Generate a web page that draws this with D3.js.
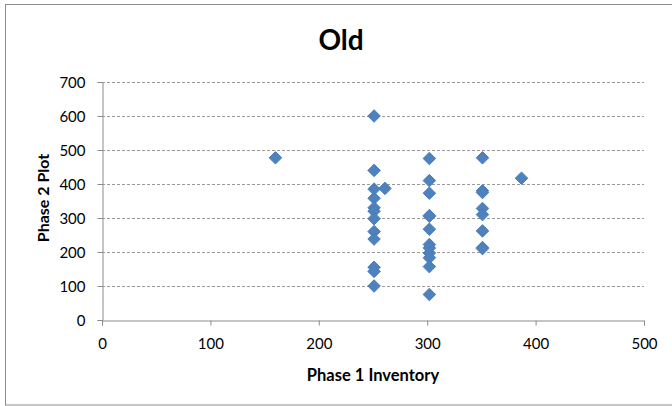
<!DOCTYPE html>
<html>
<head>
<meta charset="utf-8">
<title>Old</title>
<script src="https://cdn.jsdelivr.net/npm/d3@7"></script>
<style>
    body { margin: 0; background: #fff; }
    text { font-family: Lato, "Open Sans", sans-serif; fill: #000; }
</style>
</head>
<body>
<div id="chart"></div>
<script>
    const width = 672, height = 406;

    // Phase 1 Inventory (x) and Phase 2 Plot (y)
    const inventory = [
        160,
        251, 251, 251, 251, 251, 251, 251, 251, 251, 251, 251, 251,
        261,
        302, 302, 302, 302, 302, 302, 302, 302, 302, 302, 302, 302,
        351, 351, 351, 351, 351, 351, 351, 351,
        387
    ];
    const plot = [
        477,
        600, 440, 385, 358, 330, 320, 298, 260, 238, 155, 143, 100,
        387,
        475, 410, 373, 307, 305, 267, 222, 212, 197, 183, 157, 75,
        477, 380, 375, 328, 310, 262, 213, 210,
        417
    ];
    const xTicks = [0, 100, 200, 300, 400, 500];
    const yTicks = [0, 100, 200, 300, 400, 500, 600, 700];

    const points = inventory.map((x, i) => ({ x: x, y: plot[i] }));

    const x = d3.scaleLinear().domain([0, 500]).range([102, 644]);
    const y = d3.scaleLinear().domain([0, 700]).range([320, 82]);

    const svg = d3.select("#chart")
        .append("svg")
        .attr("width", width)
        .attr("height", height);

    // outer chart border
    svg.append("rect")
        .attr("x", 5.5)
        .attr("y", 4.5)
        .attr("width", 700)
        .attr("height", 400.5)
        .attr("fill", "none")
        .attr("stroke", "#8c8c8c")
        .attr("stroke-width", 1);

    // gridlines
    svg.append("g")
        .selectAll("line")
        .data(yTicks.filter(d => d > 0))
        .join("line")
        .attr("x1", x(0))
        .attr("x2", x(500))
        .attr("y1", d => Math.round(y(d)) + 0.5)
        .attr("y2", d => Math.round(y(d)) + 0.5)
        .attr("stroke", "#9a9a9a")
        .attr("stroke-dasharray", "3,2");

    const xAxis = svg.append("g")
        .attr("transform", "translate(0," + (Math.round(y(0)) + 0.5) + ")")
        .call(d3.axisBottom(x).tickValues(xTicks).tickSize(5).tickPadding(13));

    const yAxis = svg.append("g")
        .attr("transform", "translate(" + (Math.round(x(0)) + 0.5) + ",0)")
        .call(d3.axisLeft(y).tickValues(yTicks).tickSize(5).tickPadding(12));

    [xAxis, yAxis].forEach(g => {
        g.select(".domain").attr("stroke", "#8c8c8c");
        g.selectAll(".tick line").attr("stroke", "#8c8c8c");
        g.selectAll(".tick text")
            .attr("font-family", "Lato, 'Open Sans', sans-serif")
            .attr("font-size", "15px")
            .attr("fill", "#000");
    });
    yAxis.selectAll(".tick text").attr("dy", "0.35em");

    // markers
    svg.append("g")
        .selectAll("path")
        .data(points)
        .join("path")
        .attr("transform", d => "translate(" + x(d.x) + "," + y(d.y) + ")")
        .attr("d", d3.symbol().type(d3.symbolDiamond2).size(100))
        .attr("fill", "#4f81bd")
        .attr("stroke", "#4a7ebb")
        .attr("stroke-width", 1);

    svg.append("text")
        .attr("x", 341)
        .attr("y", 50)
        .attr("text-anchor", "middle")
        .attr("font-size", "28px")
        .attr("font-weight", "bold")
        .text("Old");

    svg.append("text")
        .attr("x", 373)
        .attr("y", 381)
        .attr("text-anchor", "middle")
        .attr("font-size", "16.5px")
        .attr("font-weight", "bold")
        .text("Phase 1 Inventory");

    svg.append("text")
        .attr("transform", "translate(49,198) rotate(-90)")
        .attr("text-anchor", "middle")
        .attr("font-size", "16px")
        .attr("font-weight", "bold")
        .text("Phase 2 Plot");
</script>
</body>
</html>
